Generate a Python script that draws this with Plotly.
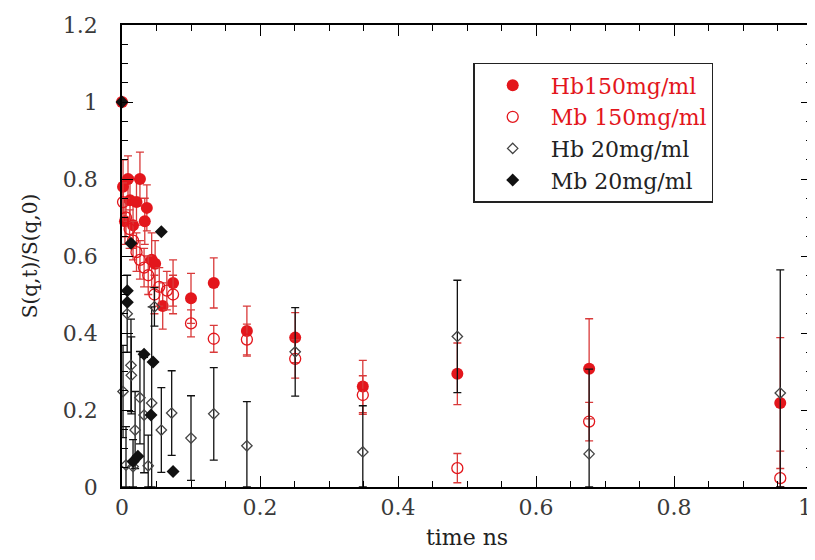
import plotly.graph_objects as go

# ---------------- data ----------------
hb150_t = [0.0, 0.0015, 0.0043, 0.0087, 0.0116, 0.016, 0.021, 0.026, 0.033, 0.036,
           0.043, 0.048, 0.059, 0.074, 0.100, 0.133, 0.181, 0.251, 0.349, 0.486, 0.677, 0.954]
hb150_y = [1.0, 0.78, 0.69, 0.80, 0.745, 0.68, 0.74, 0.80, 0.69, 0.725,
           0.59, 0.58, 0.47, 0.53, 0.49, 0.53, 0.405, 0.388, 0.261, 0.294, 0.307, 0.218]
hb150_e = [0.0, 0.07, 0.06, 0.06, 0.06, 0.06, 0.06, 0.07, 0.06, 0.06,
           0.07, 0.06, 0.06, 0.06, 0.065, 0.065, 0.065, 0.065, 0.068, 0.08, 0.13, 0.17]

mb150_t = [0.0015, 0.0058, 0.011, 0.016, 0.021, 0.026, 0.032, 0.038, 0.047, 0.054,
           0.065, 0.074, 0.100, 0.133, 0.181, 0.251, 0.349, 0.486, 0.677, 0.954]
mb150_y = [0.74, 0.70, 0.67, 0.64, 0.61, 0.59, 0.57, 0.55, 0.50, 0.52,
           0.51, 0.50, 0.425, 0.385, 0.383, 0.333, 0.239, 0.049, 0.17, 0.023]
mb150_e = [0.05, 0.05, 0.05, 0.05, 0.05, 0.05, 0.05, 0.05, 0.05, 0.05,
           0.05, 0.05, 0.035, 0.035, 0.04, 0.05, 0.05, 0.038, 0.05, 0.07]

hb20_t = [0.0015, 0.0058, 0.0075, 0.013, 0.0135, 0.016, 0.019, 0.026, 0.032, 0.038,
          0.043, 0.047, 0.057, 0.072, 0.100, 0.133, 0.181, 0.251, 0.349, 0.486, 0.677, 0.954]
hb20_y = [0.248, 0.057, 0.45, 0.316, 0.29, 0.053, 0.148, 0.232, 0.187, 0.055,
          0.218, 0.468, 0.148, 0.192, 0.127, 0.19, 0.107, 0.351, 0.091, 0.391, 0.086, 0.244]
hb20_e = [0.12, 0.10, 0.10, 0.12, 0.10, 0.07, 0.10, 0.12, 0.15, 0.08,
          0.25, 0.05, 0.11, 0.11, 0.11, 0.12, 0.115, 0.115, 0.12, 0.146, 0.22, 0.32]

mb20_t = [0.0, 0.0077, 0.0077, 0.013, 0.016, 0.023, 0.032, 0.042, 0.045, 0.057, 0.074]
mb20_y = [1.0, 0.51, 0.48, 0.633, 0.066, 0.08, 0.345, 0.187, 0.325, 0.663, 0.04]

x_ticks = [0, 0.2, 0.4, 0.6, 0.8, 1]
x_ticktext = ["0", "0.2", "0.4", "0.6", "0.8", "1\u2007"]
y_ticks = [0, 0.2, 0.4, 0.6, 0.8, 1, 1.2]
y_ticktext = ["0", "0.2", "0.4", "0.6", "0.8", "1", "1.2"]

RED = "#e3161c"
RED_ERR = "#d93a3a"
FONT = "DejaVu Serif"


def clipped_minus(y, e):
    return [min(ei, yi) for yi, ei in zip(y, e)]


fig = go.Figure()

fig.add_trace(go.Scatter(
    x=hb150_t, y=hb150_y, mode="markers", cliponaxis=False,
    name='<span style="color:#e3161c">Hb150mg/ml</span>',
    marker=dict(symbol="circle", size=12, color=RED),
    error_y=dict(type="data", array=hb150_e, arrayminus=clipped_minus(hb150_y, hb150_e),
                 color=RED_ERR, thickness=1.3, width=4),
))
fig.add_trace(go.Scatter(
    x=mb150_t, y=mb150_y, mode="markers", cliponaxis=False,
    name='<span style="color:#e3161c">Mb 150mg/ml</span>',
    marker=dict(symbol="circle-open", size=11, color=RED, line=dict(width=1.3)),
    error_y=dict(type="data", array=mb150_e, arrayminus=clipped_minus(mb150_y, mb150_e),
                 color=RED_ERR, thickness=1.3, width=4),
))
fig.add_trace(go.Scatter(
    x=hb20_t, y=hb20_y, mode="markers", cliponaxis=False,
    name="Hb 20mg/ml",
    marker=dict(symbol="diamond-open", size=8, color="#444444", line=dict(width=1.3)),
    error_y=dict(type="data", array=hb20_e, arrayminus=clipped_minus(hb20_y, hb20_e),
                 color="#111111", thickness=1.3, width=4),
))
fig.add_trace(go.Scatter(
    x=mb20_t, y=mb20_y, mode="markers", cliponaxis=False,
    name="Mb 20mg/ml",
    marker=dict(symbol="diamond", size=10, color="#111111"),
))

axis_common = dict(
    showgrid=False, zeroline=False, showline=True, linecolor="black", linewidth=1.5,
    mirror="ticks", ticks="inside", ticklen=11, tickwidth=1.3, tickcolor="black",
    tickfont=dict(family=FONT, size=22, color="#3a3a3a"),
    ticklabeloverflow="allow",
    minor=dict(ticks="inside", ticklen=6, tickwidth=1.1, tickcolor="black", dtick=0.05),
)

fig.update_xaxes(
    range=[0, 1], tickvals=x_ticks, ticktext=x_ticktext,
    title=dict(text="time ns", font=dict(family=FONT, size=22, color="#222222"), standoff=10),
    **axis_common,
)
fig.update_yaxes(
    range=[0, 1.2], tickvals=y_ticks, ticktext=y_ticktext,
    ticklabelstandoff=18,
    title=dict(text="S(q,t)/S(q,0)", font=dict(family=FONT, size=20, color="#222222"), standoff=20),
    **axis_common,
)

fig.update_layout(
    width=807, height=552,
    margin=dict(l=114, r=3, t=17, b=73, autoexpand=False),
    paper_bgcolor="white", plot_bgcolor="white",
    showlegend=True,
    legend=dict(
        x=0.509, y=0.918, xanchor="left", yanchor="top",
        bgcolor="white", bordercolor="#222222", borderwidth=1.5,
        font=dict(family=FONT, size=22, color="#222222"),
        itemwidth=66, tracegroupgap=0,
    ),
)

fig.write_html("out.html")
